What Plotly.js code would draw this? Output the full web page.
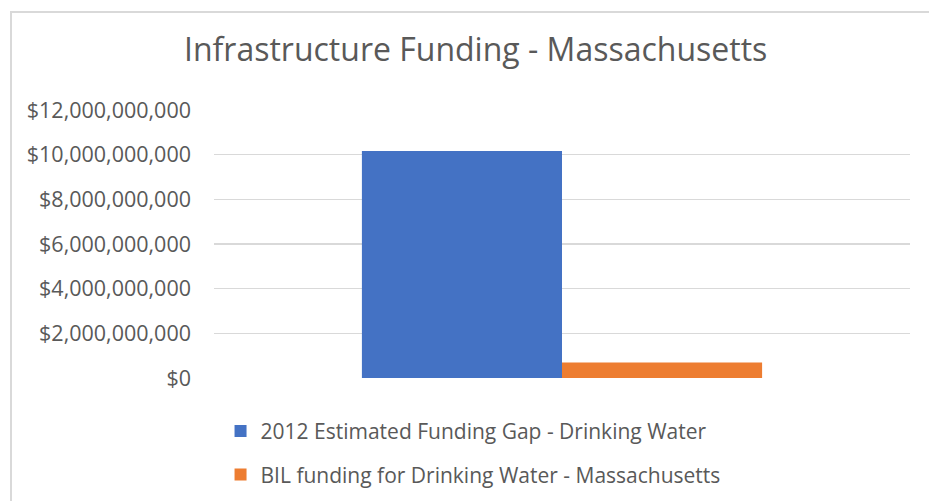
<!DOCTYPE html>
<html>
<head>
<meta charset="utf-8">
<script src="https://cdn.plot.ly/plotly-3.0.1.min.js"></script>
<style>
  html, body { margin: 0; padding: 0; background: #fff; }
  #wrap { position: relative; width: 929px; height: 501px; overflow: hidden; }
  #chart { position: absolute; left: 0; top: 0; width: 929px; height: 501px; }
  #frame { position: absolute; left: 10px; top: 11px; width: 940px; height: 520px;
           border-left: 2px solid #d9d9d9; border-top: 2px solid #d9d9d9; pointer-events: none; }
</style>
</head>
<body>
<div id="wrap">
  <div id="chart"></div>
  <div id="frame"></div>
</div>
<script>
const categories = ["Massachusetts"];
const seriesNames = [
  "2012 Estimated Funding Gap - Drinking Water",
  "BIL funding for Drinking Water - Massachusetts"
];
const fundingGap = [10160000000];
const bilFunding = [690000000];
const seriesColors = ["#4472C4", "#ED7D31"];
const yTickValues = [0, 2e9, 4e9, 6e9, 8e9, 10e9, 12e9];
const yTickLabels = ["$0", "$2,000,000,000", "$4,000,000,000", "$6,000,000,000",
                     "$8,000,000,000", "$10,000,000,000", "$12,000,000,000"];

const font = "Open Sans, sans-serif";
const textColor = "#595959";

const traces = [
  { type: "bar", x: categories, y: fundingGap, name: seriesNames[0],
    marker: { color: seriesColors[0] }, legendgroup: "a", hoverinfo: "none" },
  { type: "bar", x: categories, y: bilFunding, name: seriesNames[1],
    marker: { color: seriesColors[1] }, legendgroup: "b", hoverinfo: "none" }
];

const layout = {
  width: 929, height: 501,
  margin: { l: 214, r: 19, t: 110, b: 123, pad: 0, autoexpand: false },
  paper_bgcolor: "#fff", plot_bgcolor: "#fff",
  title: { text: "Infrastructure Funding - Massachusetts",
           font: { family: font, size: 32, color: textColor },
           x: 0.512, xanchor: "center", y: 0.9, yanchor: "middle" },
  barmode: "group", bargap: 0.425, bargroupgap: 0,
  xaxis: { showticklabels: false, showgrid: false, zeroline: false, showline: false,
           ticks: "", fixedrange: true },
  yaxis: { range: [0, 12e9], tickvals: yTickValues, ticktext: yTickLabels,
           showgrid: true, gridcolor: "#d9d9d9", gridwidth: 1.3,
           zeroline: false, showline: false, ticks: "", ticklen: 0,
           ticklabelstandoff: 22,
           tickfont: { family: font, size: 21.5, color: textColor },
           automargin: false, fixedrange: true },
  showlegend: true,
  legend: { orientation: "v", x: 0.0094, xanchor: "left", y: -0.123, yanchor: "top",
            font: { family: font, size: 21, color: textColor },
            tracegroupgap: 13, traceorder: "grouped", bgcolor: "rgba(0,0,0,0)" }
};

Plotly.newPlot("chart", traces, layout, { staticPlot: true, displayModeBar: false });
</script>
</body>
</html>
